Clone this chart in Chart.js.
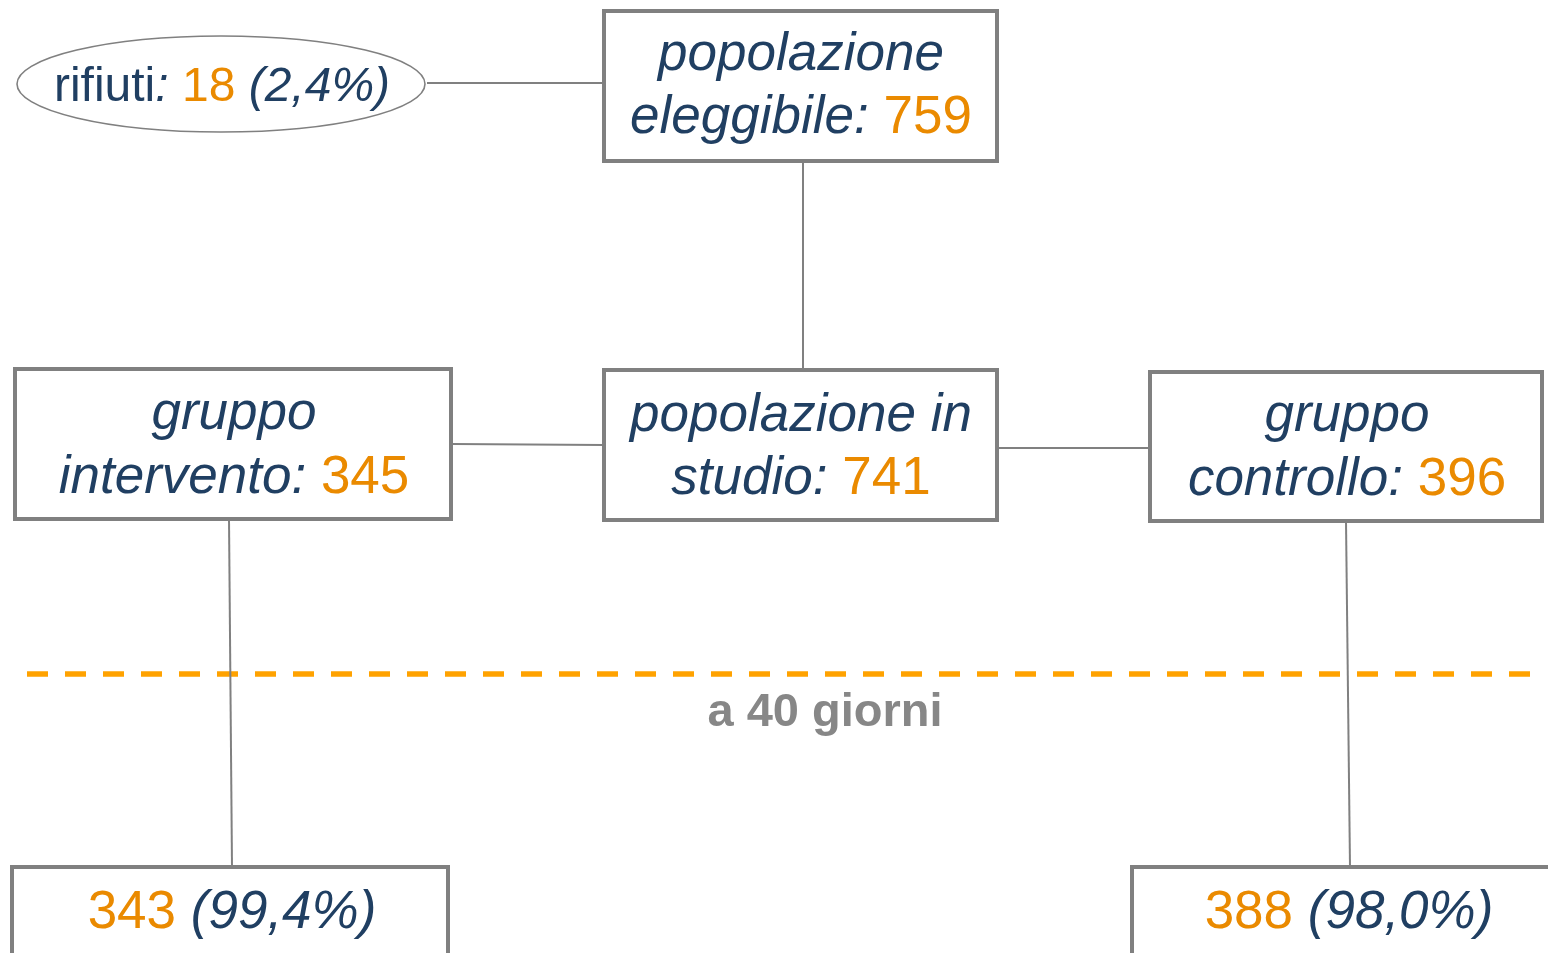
<!DOCTYPE html>
<html>
<head>
<meta charset="utf-8">
<script src="https://cdn.jsdelivr.net/npm/chart.js@4.4.1/dist/chart.umd.min.js"></script>
<style>
  html, body { margin: 0; padding: 0; background: #fff; }
  #wrap { width: 1548px; height: 953px; position: relative; }
</style>
</head>
<body>
<div id="wrap"><canvas id="flow"></canvas></div>
<script>
// --- data ---
const stageNames = ["popolazione\neleggibile", "rifiuti", "popolazione in\nstudio", "gruppo\nintervento", "gruppo\ncontrollo"];
const stageCounts = [759, 18, 741, 345, 396];
const refusalPct = ["2,4%"];
const followUpLabel = "a 40 giorni";
const followUpCounts = [343, 388];
const followUpPct = ["99,4%", "98,0%"];

// --- layout (pixels on a 1548 x 953 value grid) ---
const BLUE = "#203f62";
const ORANGE = "#ea8a00";
const GREY = "#808080";
const FONT = "'Liberation Sans', Arial, sans-serif";

const boxRects = [
  [604, 11, 997, 161],    // eleggibile
  [604, 370, 997, 520],   // in studio
  [15, 369, 451, 519],    // intervento
  [1150, 372, 1542, 521], // controllo
  [12, 867, 448, 990],    // follow-up intervento
  [1132, 867, 1570, 990]  // follow-up controllo
];
const connectors = [
  [[427, 83], [604, 83]],
  [[803, 161], [803, 370]],
  [[453, 444], [604, 445]],
  [[997, 448], [1150, 448]],
  [[229, 519], [232, 867]],
  [[1346, 521], [1350, 867]]
];
const dashY = 674, dashX = [27, 1533];

function rectPath(r) {
  return [{x: r[0], y: r[1]}, {x: r[2], y: r[1]}, {x: r[2], y: r[3]}, {x: r[0], y: r[3]}, {x: r[0], y: r[1]}];
}

const datasets = [];
boxRects.forEach(r => datasets.push({
  type: "line", data: rectPath(r), borderColor: GREY, borderWidth: 4,
  borderCapStyle: "square", borderJoinStyle: "miter", pointRadius: 0, fill: false, tension: 0
}));
connectors.forEach(c => datasets.push({
  type: "line", data: c.map(p => ({x: p[0], y: p[1]})), borderColor: GREY, borderWidth: 2,
  pointRadius: 0, fill: false
}));
datasets.push({
  type: "line", data: [{x: dashX[0], y: dashY}, {x: dashX[1], y: dashY}],
  borderColor: "#ffa200", borderWidth: 5.5, borderDash: [21, 17], pointRadius: 0, fill: false
});

// text blocks: segments {t, it (italic), c (colour)}
function lines(name) { return name.split("\n"); }
const textBlocks = [
  { cx: 801, base: [70, 133], size: 53, lines: [
    [{t: lines(stageNames[0])[0], it: 1, c: BLUE}],
    [{t: lines(stageNames[0])[1] + ": ", it: 1, c: BLUE}, {t: String(stageCounts[0]), it: 0, c: ORANGE}]
  ]},
  { cx: 222, base: [101], size: 48, lines: [
    [{t: stageNames[1], it: 0, c: BLUE}, {t: ": ", it: 1, c: BLUE}, {t: String(stageCounts[1]), it: 0, c: ORANGE},
     {t: " (" + refusalPct[0] + ")", it: 1, c: BLUE}]
  ]},
  { cx: 801, base: [431, 494], size: 53, lines: [
    [{t: lines(stageNames[2])[0], it: 1, c: BLUE}],
    [{t: lines(stageNames[2])[1] + ": ", it: 1, c: BLUE}, {t: String(stageCounts[2]), it: 0, c: ORANGE}]
  ]},
  { cx: 234, base: [429, 493], size: 53, lines: [
    [{t: lines(stageNames[3])[0], it: 1, c: BLUE}],
    [{t: lines(stageNames[3])[1] + ": ", it: 1, c: BLUE}, {t: String(stageCounts[3]), it: 0, c: ORANGE}]
  ]},
  { cx: 1347, base: [431, 495], size: 53, lines: [
    [{t: lines(stageNames[4])[0], it: 1, c: BLUE}],
    [{t: lines(stageNames[4])[1] + ": ", it: 1, c: BLUE}, {t: String(stageCounts[4]), it: 0, c: ORANGE}]
  ]},
  { cx: 232, base: [928], size: 53, lines: [
    [{t: String(followUpCounts[0]), it: 0, c: ORANGE}, {t: " (" + followUpPct[0] + ")", it: 1, c: BLUE}]
  ]},
  { cx: 1349, base: [928], size: 53, lines: [
    [{t: String(followUpCounts[1]), it: 0, c: ORANGE}, {t: " (" + followUpPct[1] + ")", it: 1, c: BLUE}]
  ]}
];

const flowPlugin = {
  id: "flowText",
  beforeDatasetsDraw(chart) {
    const {ctx, scales: {x, y}} = chart;
    // refusal ellipse
    ctx.save();
    ctx.beginPath();
    const cx = x.getPixelForValue(221), cy = y.getPixelForValue(84);
    ctx.ellipse(cx, cy, x.getPixelForValue(425) - cx, y.getPixelForValue(132) - cy, 0, 0, Math.PI * 2);
    ctx.lineWidth = 1.6;
    ctx.strokeStyle = GREY;
    ctx.stroke();
    ctx.restore();
  },
  afterDatasetsDraw(chart) {
    const {ctx, scales: {x, y}} = chart;
    ctx.save();
    ctx.textBaseline = "alphabetic";
    ctx.textAlign = "left";
    textBlocks.forEach(b => {
      b.lines.forEach((segs, i) => {
        let total = 0;
        segs.forEach(s => {
          ctx.font = (s.it ? "italic " : "") + b.size + "px " + FONT;
          s.w = ctx.measureText(s.t).width;
          total += s.w;
        });
        let px = x.getPixelForValue(b.cx) - total / 2;
        const py = y.getPixelForValue(b.base[i]);
        segs.forEach(s => {
          ctx.font = (s.it ? "italic " : "") + b.size + "px " + FONT;
          ctx.fillStyle = s.c;
          ctx.fillText(s.t, px, py);
          px += s.w;
        });
      });
    });
    // follow-up label
    ctx.font = "bold 47px " + FONT;
    ctx.fillStyle = "#878787";
    ctx.textAlign = "center";
    ctx.fillText(followUpLabel, x.getPixelForValue(825), y.getPixelForValue(726));
    ctx.restore();
  }
};

new Chart(document.getElementById("flow"), {
  type: "scatter",
  data: { datasets },
  options: {
    responsive: true,
    maintainAspectRatio: false,
    animation: false,
    events: [],
    layout: { padding: 0 },
    plugins: { legend: { display: false }, tooltip: { enabled: false } },
    scales: {
      x: { type: "linear", min: 0, max: 1548, display: false },
      y: { type: "linear", min: 0, max: 953, reverse: true, display: false }
    }
  },
  plugins: [flowPlugin]
});
</script>
</body>
</html>
